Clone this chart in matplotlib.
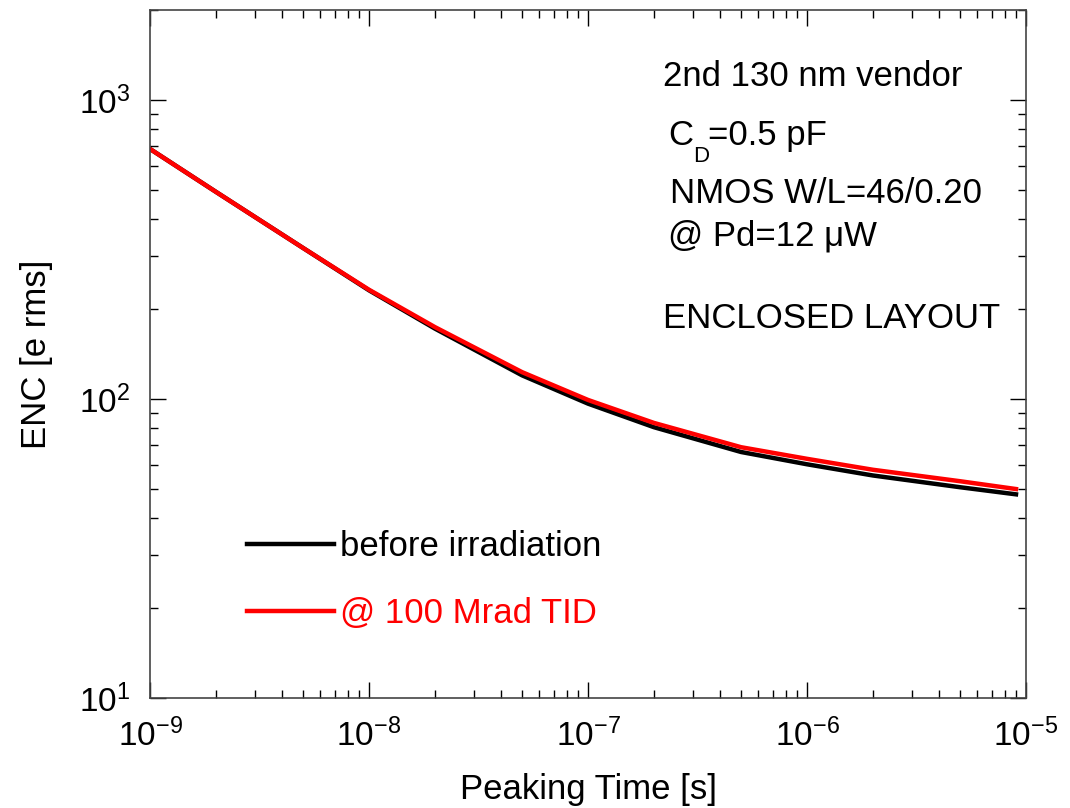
import matplotlib.pyplot as plt
import numpy as np

plt.rcParams['font.family'] = ['Liberation Sans', 'DejaVu Sans']
plt.rcParams['mathtext.fontset'] = 'custom'
plt.rcParams['mathtext.rm'] = 'Liberation Sans'
plt.rcParams['axes.unicode_minus'] = False

# peaking time [s]
tp = [1e-9, 2e-9, 5e-9, 1e-8, 2e-8, 5e-8, 1e-7, 2e-7, 5e-7, 1e-6, 2e-6, 5e-6, 9e-6]
# ENC [e rms]
enc_before = [686, 493, 320, 231, 172, 120, 96.5, 80.5, 66.5, 60.5, 55.5, 50.7, 48]
enc_100mrad = [686, 493, 320, 232, 174, 123, 99.3, 83.2, 69.0, 63.1, 58.0, 53.1, 50]

fig = plt.figure(figsize=(10.7, 8.08), dpi=100)
ax = fig.add_axes([0.1402, 0.1361, 0.8187, 0.8515])

ax.plot(tp, enc_before, color='black', lw=3.2, label='before irradiation')
ax.plot(tp, enc_100mrad, color='red', lw=3.2, label='@ 100 Mrad TID')

ax.set_xscale('log')
ax.set_yscale('log')
ax.set_xlim(1e-9, 1e-5)
ax.set_ylim(10, 2000)

ax.tick_params(which='both', direction='in', top=True, right=True, width=1)
ax.tick_params(which='major', length=11.5, labelsize=24)
ax.tick_params(axis='x', which='major', pad=15)
ax.tick_params(axis='y', which='major', pad=14)
ax.tick_params(which='minor', length=6)
for s in ax.spines.values():
    s.set_linewidth(1.2)
    s.set_color('#444444')

ax.set_xlabel('Peaking Time [s]', fontsize=25, labelpad=14)
ax.set_ylabel('ENC [e rms]', fontsize=25, labelpad=19)

leg = ax.legend(loc='upper left', bbox_to_anchor=(0.0756, 0.29), frameon=False,
                fontsize=25, handlelength=2.5, handletextpad=0.15,
                labelspacing=1.0, labelcolor='linecolor')

txt = dict(transform=ax.transAxes, fontsize=25, va='baseline', ha='left')
ax.text(0.5856, 0.8895, '2nd 130 nm vendor', **txt)
ax.text(0.5913, 0.8038, 'C', **txt)
ax.text(0.6199, 0.779, 'D', transform=ax.transAxes, fontsize=16, va='baseline', ha='left')
ax.text(0.6375, 0.8038, '=0.5 pF', **txt)
ax.text(0.5936, 0.7195, 'NMOS W/L=46/0.20', **txt)
ax.text(0.5913, 0.6584, '@ Pd=12 \u03bcW', **txt)
ax.text(0.5856, 0.5378, 'ENCLOSED LAYOUT', **txt)

fig.savefig('out.png', dpi=100)
